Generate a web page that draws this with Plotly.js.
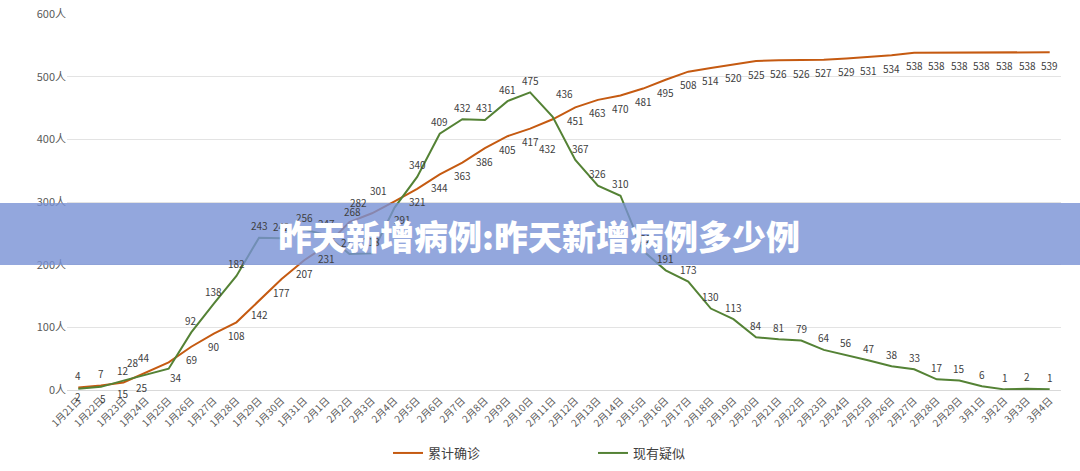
<!DOCTYPE html>
<html>
<head>
<meta charset="utf-8">
<script src="https://cdn.plot.ly/plotly-3.0.1.min.js"></script>
<style>html,body{margin:0;padding:0;background:#fff;}#chart{width:1080px;height:471px;}</style>
</head>
<body>
<div id="chart"></div>
<script>
const dates = ["1月21日","1月22日","1月23日","1月24日","1月25日","1月26日","1月27日","1月28日","1月29日","1月30日","1月31日",
"2月1日","2月2日","2月3日","2月4日","2月5日","2月6日","2月7日","2月8日","2月9日","2月10日","2月11日","2月12日","2月13日","2月14日","2月15日","2月16日","2月17日","2月18日","2月19日","2月20日","2月21日","2月22日","2月23日","2月24日","2月25日","2月26日","2月27日","2月28日","2月29日",
"3月1日","3月2日","3月3日","3月4日"];
const confirmed = [4,7,12,28,44,69,90,108,142,177,207,
231,268,282,301,321,344,363,386,405,417,432,451,463,470,481,495,508,514,520,525,526,526,527,529,531,534,538,538,538,
538,538,538,539];
const suspected = [2,5,15,25,34,92,138,182,243,242,256,
247,217,218,291,340,409,432,431,461,475,436,367,326,310,222,191,173,130,113,84,81,79,64,56,47,38,33,17,15,
6,1,2,1];
const seriesNames = ["累计确诊","现有疑似"];
const yTicks = [0,100,200,300,400,500,600];
const bannerText = "昨天新增病例:昨天新增病例多少例";

const FONT = "'Noto Sans CJK SC', 'Noto Sans', sans-serif";
const COLORS = ['#C55A11', '#548235'];

const traces = [confirmed, suspected].map((vals, k) => ({
  x: dates, y: vals, name: seriesNames[k], type: 'scatter', mode: 'lines',
  line: {color: COLORS[k], width: 2}, hoverinfo: 'skip'
}));

// label offsets (pixels): default per series, with per-point overrides to avoid collisions
const defShift = [[0, -13], [0, 12]];
const overrides = [
  {0: [0, 12], 1: [0, 12], 2: [0, 12], 3: [-13, 10], 4: [-25, 5],
   12: [3, 11], 13: [-13, 11], 14: [-16, 11], 21: [-5, -29]},
  {0: [0, -8], 1: [2, -12], 2: [0, -13], 3: [-4, -13], 4: [7, -9],
   14: [8, -12], 21: [12, 23], 22: [5, 12]}
];
const annotations = [];
[confirmed, suspected].forEach((vals, k) => {
  vals.forEach((v, i) => {
    const s = overrides[k][i] || defShift[k];
    annotations.push({x: dates[i], y: v, xref: 'x', yref: 'y', text: String(v), showarrow: false,
      xshift: s[0], yshift: s[1], font: {family: FONT, size: 10, color: '#404040'},
      xanchor: 'center', yanchor: 'middle'});
  });
});

const L = 67, R = 19, T = 14, B = 81, W = 1080, H = 471;
const pw = W - L - R, ph = H - T - B;
annotations.push({xref: 'paper', yref: 'paper', x: (539 - L) / pw, y: (H - B - 235) / ph,
  text: bannerText, showarrow: false,
  font: {family: FONT, size: 34, color: '#ffffff', weight: 900}, xanchor: 'center', yanchor: 'middle'});

const layout = {
  width: W, height: H,
  margin: {l: L, r: R, t: T, b: B, pad: 0, autoexpand: false},
  paper_bgcolor: '#fff', plot_bgcolor: '#fff',
  font: {family: FONT, color: '#595959'},
  showlegend: true,
  legend: {orientation: 'h', x: (388 - L) / pw, xanchor: 'left', y: (H - B - 453) / ph, yanchor: 'middle',
           font: {family: FONT, size: 13, color: '#404040'}, entrywidth: 160, entrywidthmode: 'pixels',
           traceorder: 'normal'},
  xaxis: {type: 'category', range: [-0.5, dates.length - 0.5], tickangle: -45, automargin: false,
          tickfont: {family: FONT, size: 10, color: '#595959'},
          showgrid: false, showline: true, linecolor: '#d9d9d9', linewidth: 1,
          ticks: '', zeroline: false, fixedrange: true},
  yaxis: {range: [0, 600], tickmode: 'array', tickvals: yTicks, ticktext: yTicks.map(v => v + '人'),
          automargin: false,
          tickfont: {family: FONT, size: 11, color: '#595959'},
          showgrid: true, gridcolor: '#e3e3e3', gridwidth: 1, zeroline: false, ticks: '',
          fixedrange: true},
  shapes: [{type: 'rect', xref: 'paper', yref: 'paper',
            x0: -L / pw, x1: (W - L) / pw,
            y0: (H - B - 265) / ph, y1: (H - B - 203) / ph,
            fillcolor: 'rgb(120,145,212)', opacity: 0.8, line: {width: 0}, layer: 'above'}],
  annotations: annotations
};
Plotly.newPlot('chart', traces, layout, {displayModeBar: false, staticPlot: true});
</script>
</body>
</html>
